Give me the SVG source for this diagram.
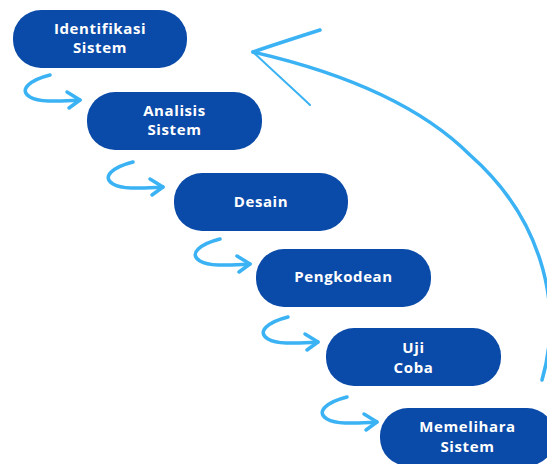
<svg xmlns="http://www.w3.org/2000/svg" xmlns:xlink="http://www.w3.org/1999/xlink" width="547" height="464" viewBox="0 0 547 464">
  <defs>
    <style>
      .node rect { fill: #0a4aa8; }
      .node text { fill: #ffffff; font-family: "Open Sans", "Liberation Sans", sans-serif; font-weight: 700; font-size: 15px; letter-spacing: 0.6px; text-anchor: middle; }
      .conn { fill: none; stroke: #3ab2f4; stroke-linecap: round; stroke-linejoin: round; }
      .curl { stroke-width: 3.5; }
      .arc { stroke-width: 3.5; }
    </style>
    <g id="curl" class="conn curl">
      <path d="M-30,-25 C-50,-20 -62,-10 -50,-3 C-40,3 -20,1 0,0"/>
      <path d="M-13,-8 L0,0 L-11,8"/>
    </g>
  </defs>
  <rect width="547" height="464" fill="#ffffff"/>

  <g id="connectors">
    <use xlink:href="#curl" href="#curl" x="80" y="100"/>
    <use xlink:href="#curl" href="#curl" x="163" y="187"/>
    <use xlink:href="#curl" href="#curl" x="250" y="264"/>
    <use xlink:href="#curl" href="#curl" x="318" y="342"/>
    <use xlink:href="#curl" href="#curl" x="377" y="422"/>
    <g class="conn arc">
      <path d="M542,380 C565,300 538,215 470,155 C420,105 340,72 253,52"/>
      <path d="M320,30 C295,38 270,46 253,52"/>
      <path d="M253,52 C272,70 292,88 310,105" stroke-width="2"/>
    </g>
  </g>

  <g id="node-identifikasi" class="node">
    <rect x="13" y="10" width="174" height="58" rx="28"/>
    <text x="100" y="34">Identifikasi</text>
    <text x="100" y="53">Sistem</text>
  </g>
  <g id="node-analisis" class="node">
    <rect x="87" y="92" width="175" height="58" rx="28"/>
    <text x="174.5" y="116">Analisis</text>
    <text x="174.5" y="135">Sistem</text>
  </g>
  <g id="node-desain" class="node">
    <rect x="174" y="173" width="174" height="58" rx="28"/>
    <text x="261" y="207">Desain</text>
  </g>
  <g id="node-pengkodean" class="node">
    <rect x="256" y="249" width="175" height="58" rx="28"/>
    <text x="343.5" y="282">Pengkodean</text>
  </g>
  <g id="node-ujicoba" class="node">
    <rect x="326" y="328" width="175" height="58" rx="28"/>
    <text x="413.5" y="353">Uji</text>
    <text x="413.5" y="373">Coba</text>
  </g>
  <g id="node-memelihara" class="node">
    <rect x="380" y="408" width="175" height="58" rx="28"/>
    <text x="467.5" y="432">Memelihara</text>
    <text x="467.5" y="452">Sistem</text>
  </g>
</svg>
